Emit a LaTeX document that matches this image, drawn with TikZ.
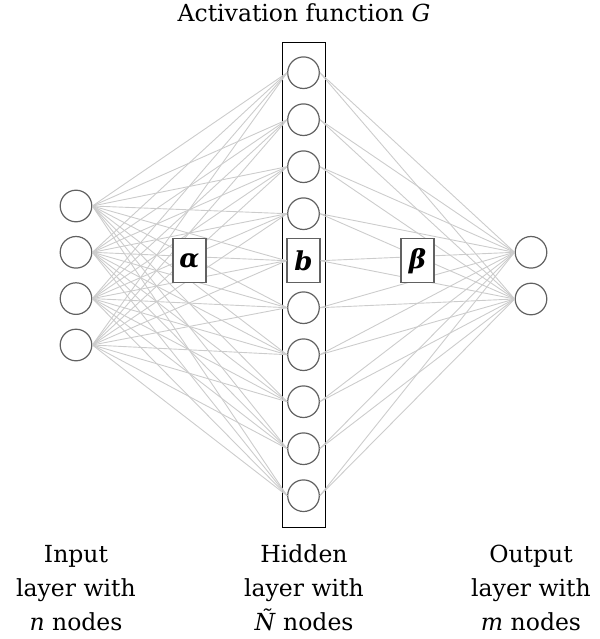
\documentclass[tikz,border=0pt]{standalone}
\usepackage{fontspec}
\setmainfont{DejaVu Serif}
\begin{document}
\begin{tikzpicture}[x=1pt,y=-1pt,
  neuron/.style={circle,draw=black!62,line width=1.2pt,fill=white,minimum size=31.6pt,inner sep=0pt},
  wbox/.style={rectangle,draw=black!62,line width=1.1pt,fill=white,minimum width=33pt,minimum height=44pt,inner sep=0pt,font=\fontsize{26}{30}\selectfont\bfseries\itshape},
  conn/.style={draw=black!20,line width=0.9pt},
  layerbox/.style={draw=black,line width=0.9pt},
  lbl/.style={align=center,font=\fontsize{23.5}{34}\selectfont}]
\useasboundingbox (0,0) rectangle (599,639);
% layer frame
\draw[layerbox] (282,42.3) rectangle (325,527);
% input layer
\foreach \k/\y in {1/206,2/252.3,3/298.6,4/345}
  \node[neuron] (i\k) at (76,\y) {};
% hidden layer
\foreach \k in {0,1,2,3,5,6,7,8,9}
  \node[neuron] (h\k) at (303.5,72.7+47*\k) {};
\node[wbox] (h4) at (303.5,260.7) {b};
% output layer
\node[neuron] (o1) at (531,252.3) {};
\node[neuron] (o2) at (531,299) {};
% connections
\foreach \i in {1,2,3,4}
  \foreach \h in {0,...,9}
    \draw[conn] (i\i.east) -- (h\h.west);
\foreach \h in {0,...,9}
  \foreach \o in {1,2}
    \draw[conn] (h\h.east) -- (o\o.west);
% weight boxes
\node[wbox] (alpha) at (189.5,260.7) {α};
\node[wbox] (beta) at (417.5,260.7) {β};
% labels
\node[lbl,anchor=base] (title) at (304,22) {Activation function \textit{G}};
\node[lbl,anchor=base] (lin) at (76,630) {Input\\layer with\\\textit{n} nodes};
\node[lbl,anchor=base] (lhid) at (304,630) {Hidden\\layer with\\\textit{Ñ} nodes};
\node[lbl,anchor=base] (lout) at (531,630) {Output\\layer with\\\textit{m} nodes};
\end{tikzpicture}
\end{document}
